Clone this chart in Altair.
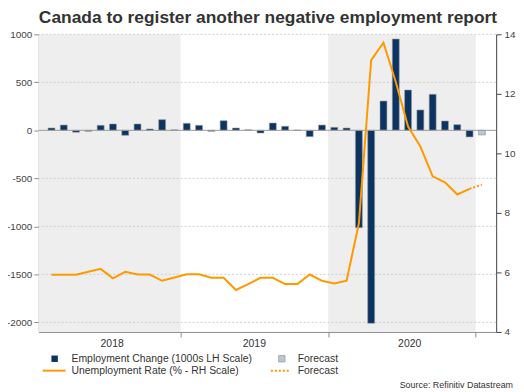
import altair as alt
import pandas as pd

# ---------------- data ----------------
months = [
    "2018-02", "2018-03", "2018-04", "2018-05", "2018-06", "2018-07",
    "2018-08", "2018-09", "2018-10", "2018-11", "2018-12",
    "2019-01", "2019-02", "2019-03", "2019-04", "2019-05", "2019-06",
    "2019-07", "2019-08", "2019-09", "2019-10", "2019-11", "2019-12",
    "2020-01", "2020-02", "2020-03", "2020-04", "2020-05", "2020-06",
    "2020-07", "2020-08", "2020-09", "2020-10", "2020-11", "2020-12",
]
employment_change = [
    24, 55, -20, -10, 52, 66, -52, 66, 14, 111, 5,
    73, 52, -10, 100, 24, 5, -28, 76, 42, 3, -66, 55,
    31, 24, -1014, -2010, 305, 951, 420, 212, 375, 97, 59, -69,
]
unemployment_rate = [
    5.92, 5.92, 5.92, 6.02, 6.12, 5.80, 6.02, 5.93, 5.93, 5.72, 5.83,
    5.94, 5.94, 5.82, 5.82, 5.41, 5.61, 5.82, 5.82, 5.61, 5.61, 5.93, 5.72,
    5.63, 5.72, 7.65, 13.13, 13.72, 12.40, 10.90, 10.23, 9.23, 9.03, 8.62, 8.81,
]
forecast_month = "2021-01"
forecast_employment = -48
forecast_unemployment = 8.95

years = [2018, 2019, 2020]
shaded_years = [2018, 2020]
left_ticks = [-2000, -1500, -1000, -500, 0, 500, 1000]
right_ticks = [4, 6, 8, 10, 12, 14]

title_text = "Canada to register another negative employment report"
legend_emp = "Employment Change (1000s LH Scale)"
legend_rate = "Unemployment Rate (% - RH Scale)"
legend_fc = "Forecast"
source_text = "Source: Refinitiv Datastream"

# ---------------- styling ----------------
NAVY = "#0b3463"
FC_FILL = "#b9c7d8"
ORANGE = "#ff9900"
SHADE = "#eeeeee"
TXT = "#333333"
AX = "#8c8c8c"
FONT = "Liberation Sans"

W, H = 461, 300
X0, X1 = 0.87, 37.26  # visible month-index range of the time axis


def month_pos(m):
    y, mo = m.split("-")
    return (int(y) - 2018) * 12 + int(mo) - 1 + 0.5


hist = pd.DataFrame({
    "month": months,
    "t": [month_pos(m) for m in months],
    "emp": employment_change,
    "rate": unemployment_rate,
})
fc_bar = pd.DataFrame({
    "month": [forecast_month],
    "t": [month_pos(forecast_month)],
    "emp": [forecast_employment],
})
fc_line = pd.DataFrame({
    "month": [months[-1], forecast_month],
    "t": [month_pos(months[-1]), month_pos(forecast_month)],
    "rate": [unemployment_rate[-1], forecast_unemployment],
})
shade = pd.DataFrame({
    "year": shaded_years,
    "start": [(y - 2018) * 12 for y in shaded_years],
    "end": [(y - 2018) * 12 + 12 for y in shaded_years],
})
bounds = [X0] + [(y - 2018) * 12 for y in years[1:]] + [X1]
year_labels = pd.DataFrame({
    "year": [str(y) for y in years],
    "mid": [(bounds[i] + bounds[i + 1]) / 2 for i in range(len(years))],
})

xs = alt.Scale(domain=[X0, X1], nice=False, zero=False)
xaxis = alt.Axis(values=[12, 24, 36], labels=False, title=None, grid=False,
                 tickSize=5, tickColor=AX, domainColor=AX, domainWidth=1)
yl = alt.Scale(domain=[-2100, 1000], nice=False, zero=False)
yr = alt.Scale(domain=[4, 14], nice=False, zero=False)
yl_axis = alt.Axis(orient="left", values=left_ticks, title=None, grid=False,
                   tickSize=5, tickColor=AX, domainColor=AX, labelColor="#444444",
                   labelFontSize=10, labelPadding=2, labelExpr="datum.value + ''")
yr_axis = alt.Axis(orient="right", values=right_ticks, title=None, grid=False,
                   tickSize=5, tickColor="#444444", domainColor="#444444",
                   labelColor="#444444", labelFontSize=10, labelPadding=3)

X = lambda f: alt.X(f, scale=xs, axis=xaxis)

shade_layer = alt.Chart(shade).mark_rect(color=SHADE, clip=True).encode(
    x=X("start:Q"), x2="end:Q", y=alt.value(0), y2=alt.value(H)
)

grid = alt.Chart(pd.DataFrame({"v": [v for v in left_ticks if v != 0]})).mark_rule(
    color="#cfcfcf", strokeDash=[2, 2], strokeWidth=1
).encode(y=alt.Y("v:Q", scale=yl, axis=yl_axis))

bars = alt.Chart(hist).mark_bar(size=7, color=NAVY, stroke="#9c9c9c", strokeWidth=0.6).encode(
    x=X("t:Q"), y=alt.Y("emp:Q", scale=yl, axis=yl_axis)
)
fbar = alt.Chart(fc_bar).mark_bar(size=7, color=FC_FILL, stroke="#8a8a8a", strokeWidth=0.6).encode(
    x=X("t:Q"), y=alt.Y("emp:Q", scale=yl, axis=yl_axis)
)
zero = alt.Chart(pd.DataFrame({"v": [0]})).mark_rule(color="#9a9a9a", strokeWidth=1).encode(
    y=alt.Y("v:Q", scale=yl, axis=yl_axis)
)
left_group = alt.layer(grid, bars, fbar, zero)

line = alt.Chart(hist).mark_line(color=ORANGE, strokeWidth=2).encode(
    x=X("t:Q"), y=alt.Y("rate:Q", scale=yr, axis=yr_axis)
)
fline = alt.Chart(fc_line).mark_line(color=ORANGE, strokeWidth=2, strokeDash=[2, 2]).encode(
    x=X("t:Q"), y=alt.Y("rate:Q", scale=yr, axis=yr_axis)
)
right_group = alt.layer(line, fline)

ylabels = alt.Chart(year_labels).mark_text(
    fontSize=10.5, color=TXT, baseline="middle", align="center"
).encode(x=X("mid:Q"), y=alt.value(312), text="year:N")


def legend_text(label, x, y, size=10.5, align="left", baseline="middle", weight="normal"):
    return alt.Chart(pd.DataFrame({"label": [label]})).mark_text(
        fontSize=size, color=TXT, align=align, baseline=baseline, fontWeight=weight
    ).encode(x=alt.value(x), y=alt.value(y), text="label:N")


title_layer = legend_text(title_text, 231, -11.5, size=17.5, align="center",
                          baseline="alphabetic", weight="bold")

lg_sq1 = alt.Chart(pd.DataFrame({"label": [legend_emp]})).mark_square(
    size=42, color=NAVY, opacity=1
).encode(x=alt.value(16), y=alt.value(327))
lg_sq2 = alt.Chart(pd.DataFrame({"label": [legend_fc]})).mark_square(
    size=42, color=FC_FILL, opacity=1, stroke="#8a8a8a", strokeWidth=0.6
).encode(x=alt.value(245), y=alt.value(327))
lg_ln1 = alt.Chart(pd.DataFrame({"label": [legend_rate]})).mark_rule(
    color=ORANGE, strokeWidth=2
).encode(x=alt.value(4), x2=alt.value(27), y=alt.value(339))
lg_ln2 = alt.Chart(pd.DataFrame({"label": [legend_fc]})).mark_rule(
    color=ORANGE, strokeWidth=2, strokeDash=[2, 2]
).encode(x=alt.value(234), x2=alt.value(254), y=alt.value(339))

legend_layers = [
    lg_sq1, legend_text(legend_emp, 33, 327),
    lg_sq2, legend_text(legend_fc, 261, 327),
    lg_ln1, legend_text(legend_rate, 33, 339),
    lg_ln2, legend_text(legend_fc, 261, 339),
    legend_text(source_text, 478, 353, size=9, align="right"),
]

chart = alt.layer(
    shade_layer, left_group, right_group, ylabels, title_layer, *legend_layers
).resolve_scale(y="independent").properties(
    width=W, height=H,
    autosize=alt.AutoSizeParams(type="none"),
    padding={"left": 31, "top": 25, "right": 20, "bottom": 58},
).configure(font=FONT).configure_view(stroke=None)

chart.save("out.html", embed_options={"renderer": "svg", "actions": False})
